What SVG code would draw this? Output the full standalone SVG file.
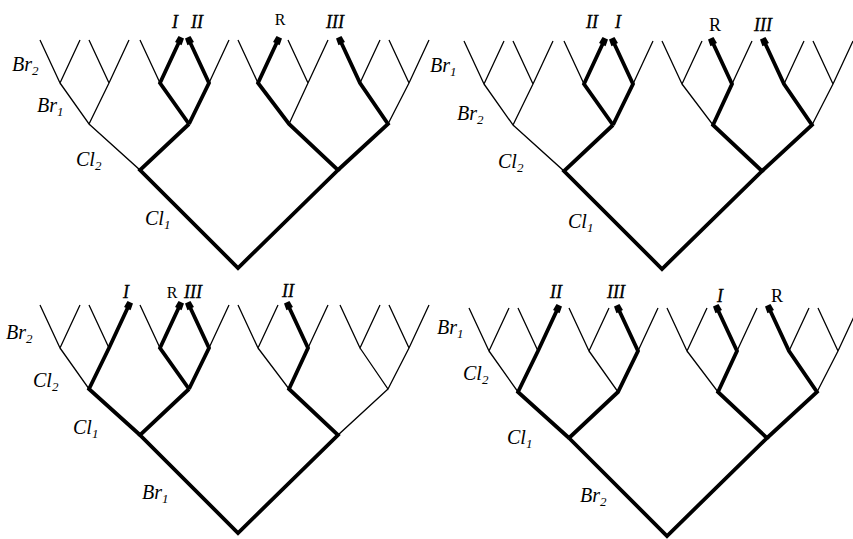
<svg xmlns="http://www.w3.org/2000/svg" xmlns:xlink="http://www.w3.org/1999/xlink" width="853" height="539" viewBox="0 0 853 539">
<style>
.thin{fill:none;stroke:#000;stroke-width:1.3;stroke-linejoin:miter}
.thick{fill:none;stroke:#000;stroke-width:3.8;stroke-linejoin:miter;marker-end:url(#head)}
.lab{font-family:"Liberation Serif",serif;font-style:italic;font-size:20px;fill:#000}
.sub{font-size:13px}
.rom{font-family:"Liberation Serif",serif;font-style:italic;font-size:18px;fill:#000;text-anchor:middle;stroke:#000;stroke-width:0.3}
.r{font-family:"Liberation Serif",serif;font-size:16px;fill:#000;text-anchor:middle}
</style>
<defs>
<marker id="head" markerUnits="userSpaceOnUse" markerWidth="12" markerHeight="12" refX="2" refY="0" viewBox="-4 -6 12 12" orient="auto">
<path d="M-2,-3.6 L5,-3 L5,3 L-2,3.6 Z" fill="#000"/>
</marker>
<g id="base">
<path class="thin" d="M40,40 L60,83 L80,40 M89,40 L109,83 L129,40 M140,40 L160,83 L180,40 M189,40 L209,83 L229,40 M238,40 L258,83 L278,40 M288,40 L308,83 L328,40 M340,40 L360,83 L380,40 M389,40 L409,83 L429,40 M60,83 L89,124 L109,83 M160,83 L189,124 L209,83 M258,83 L289,124 L308,83 M360,83 L388,124 L409,83 M89,124 L140,170 L189,124 M289,124 L338,170 L388,124 M140,170 L238,268 L338,170"/>
</g>
</defs>

<g id="tree-top-left">
<g id="tl-connectors">
<use xlink:href="#base" href="#base"/>
<path class="thick" d="M189,124 L160,83 L180,40"/>
<path class="thick" d="M189,124 L209,83 L189,40"/>
<path class="thick" d="M189,124 L140,170 L238,268 L338,170 L289,124 L258,83 L278,40"/>
<path class="thick" d="M338,170 L388,124 L360,83 L340,40"/>
</g>
<g id="tl-labels">
<text class="rom" x="175" y="28">I</text>
<text class="rom" x="197" y="28">II</text>
<text class="r" x="280" y="25">R</text>
<text class="rom" x="335" y="28">III</text>
<text class="lab" x="12" y="71">Br<tspan class="sub" dy="4">2</tspan></text>
<text class="lab" x="37" y="112">Br<tspan class="sub" dy="4">1</tspan></text>
<text class="lab" x="76" y="166">Cl<tspan class="sub" dy="4">2</tspan></text>
<text class="lab" x="145" y="225">Cl<tspan class="sub" dy="4">1</tspan></text>
</g>
</g>

<g id="tree-top-right">
<g id="tr-connectors" transform="translate(424,1)">
<use xlink:href="#base" href="#base"/>
<path class="thick" d="M189,124 L160,83 L180,40"/>
<path class="thick" d="M189,124 L209,83 L189,40"/>
<path class="thick" d="M189,124 L140,170 L238,268 L338,170 L289,124 L308,83 L288,40"/>
<path class="thick" d="M338,170 L388,124 L360,83 L340,40"/>
</g>
<g id="tr-labels">
<text class="rom" x="592" y="28">II</text>
<text class="rom" x="618" y="28">I</text>
<text class="r" x="715" y="31" style="font-size:18px">R</text>
<text class="rom" x="763" y="31">III</text>
<text class="lab" x="430" y="72">Br<tspan class="sub" dy="4">1</tspan></text>
<text class="lab" x="457" y="120">Br<tspan class="sub" dy="4">2</tspan></text>
<text class="lab" x="498" y="168">Cl<tspan class="sub" dy="4">2</tspan></text>
<text class="lab" x="568" y="228">Cl<tspan class="sub" dy="4">1</tspan></text>
</g>
</g>

<g id="tree-bottom-left">
<g id="bl-connectors" transform="translate(0,265)">
<use xlink:href="#base" href="#base"/>
<path class="thick" d="M140,170 L89,124 L109,83 L129,40"/>
<path class="thick" d="M189,124 L160,83 L180,40"/>
<path class="thick" d="M189,124 L209,83 L189,40"/>
<path class="thick" d="M189,124 L140,170 L238,268 L338,170 L289,124 L308,83 L288,40"/>
</g>
<g id="bl-labels">
<text class="rom" x="126" y="298">I</text>
<text class="r" x="172" y="298">R</text>
<text class="rom" x="193" y="298">III</text>
<text class="rom" x="288" y="297">II</text>
<text class="lab" x="6" y="339">Br<tspan class="sub" dy="4">2</tspan></text>
<text class="lab" x="33" y="387">Cl<tspan class="sub" dy="4">2</tspan></text>
<text class="lab" x="73" y="434">Cl<tspan class="sub" dy="4">1</tspan></text>
<text class="lab" x="142" y="499">Br<tspan class="sub" dy="4">1</tspan></text>
</g>
</g>

<g id="tree-bottom-right">
<g id="br-connectors" transform="translate(429,268)">
<use xlink:href="#base" href="#base"/>
<path class="thick" d="M140,170 L89,124 L109,83 L129,40"/>
<path class="thick" d="M140,170 L189,124 L209,83 L189,40"/>
<path class="thick" d="M140,170 L238,268 L338,170 L289,124 L308,83 L288,40"/>
<path class="thick" d="M338,170 L388,124 L360,83 L340,40"/>
</g>
<g id="br-labels">
<text class="rom" x="556" y="298">II</text>
<text class="rom" x="616" y="298">III</text>
<text class="rom" x="720" y="302">I</text>
<text class="r" x="777" y="302" style="font-size:18px">R</text>
<text class="lab" x="437" y="334">Br<tspan class="sub" dy="4">1</tspan></text>
<text class="lab" x="463" y="380">Cl<tspan class="sub" dy="4">2</tspan></text>
<text class="lab" x="507" y="444">Cl<tspan class="sub" dy="4">1</tspan></text>
<text class="lab" x="580" y="502">Br<tspan class="sub" dy="4">2</tspan></text>
</g>
</g>
</svg>
